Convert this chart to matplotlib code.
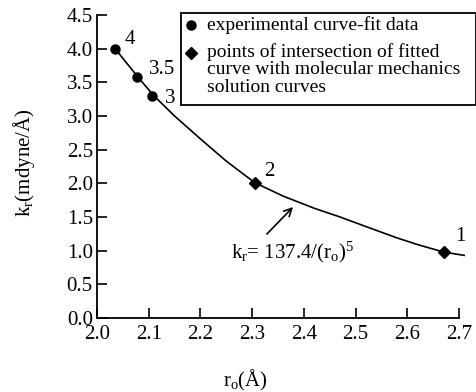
import matplotlib
matplotlib.use("Agg")
import matplotlib.pyplot as plt
from matplotlib.patches import Rectangle
from matplotlib.lines import Line2D

plt.rcParams['font.family'] = ['Liberation Serif', 'DejaVu Serif']
plt.rcParams['mathtext.fontset'] = 'custom'
plt.rcParams['mathtext.rm'] = 'Liberation Serif'
plt.rcParams['mathtext.it'] = 'Liberation Serif:italic'

# Data
exp_r = [2.035, 2.078, 2.107]
exp_k = [4.00, 3.58, 3.30]
exp_labels = ["4", "3.5", "3"]

int_r = [2.305, 2.671]
int_k = [2.01, 0.98]
int_labels = ["2", "1"]

fit_r = [2.035, 2.08, 2.11, 2.15, 2.20, 2.25, 2.305, 2.36, 2.42, 2.47, 2.53, 2.58, 2.62, 2.67, 2.71]
fit_k = [4.00, 3.57, 3.30, 3.00, 2.66, 2.33, 2.01, 1.81, 1.63, 1.50, 1.33, 1.19, 1.09, 0.98, 0.93]

x_ticks = [2.0, 2.1, 2.2, 2.3, 2.4, 2.5, 2.6, 2.7]
y_ticks = [0.0, 0.5, 1.0, 1.5, 2.0, 2.5, 3.0, 3.5, 4.0, 4.5]

legend_lines = ["experimental curve-fit data",
                "points of intersection of fitted",
                "curve with molecular mechanics",
                "solution curves"]

FS = 15
LFS = 14

fig = plt.figure(figsize=(4.77, 3.92), dpi=100)
ax = fig.add_axes([97/477, 1-318/392, (459-97)/477, (318-15)/392])

ax.plot(fit_r, fit_k, color='black', lw=1.2, clip_on=False)
ax.plot(exp_r, exp_k, 'o', color='black', ms=6.5, clip_on=False)
ax.plot(int_r, int_k, 'D', color='black', ms=6, clip_on=False)

offsets_exp = [(7, 3), (8, 2), (9, -5)]
for r, k, lab, off in zip(exp_r, exp_k, exp_labels, offsets_exp):
    ax.annotate(lab, (r, k), xytext=off, textcoords='offset points', fontsize=FS)
offsets_int = [(7, 5), (8, 8)]
for r, k, lab, off in zip(int_r, int_k, int_labels, offsets_int):
    ax.annotate(lab, (r, k), xytext=off, textcoords='offset points', fontsize=FS)

ax.annotate('', xy=(295/477, 1-205/392), xycoords='figure fraction',
            xytext=(265/477, 1-236/392), textcoords='figure fraction',
            arrowprops=dict(arrowstyle='->', color='black', lw=1.2, mutation_scale=14))
fig.text(231/477, 1-252/392, r'k$_\mathrm{r}$= 137.4/(r$_\mathrm{o}$)$^\mathrm{5}$',
         fontsize=FS, va='center', ha='left')

ax.set_xlim(2.0, 2.7)
ax.set_ylim(0.0, 4.5)
ax.set_xticks(x_ticks)
ax.set_yticks(y_ticks)
ax.set_xticklabels([f"{v:.1f}" for v in x_ticks])
ax.set_yticklabels([f"{v:.1f}" for v in y_ticks])
ax.tick_params(direction='in', length=7, width=1.2, labelsize=FS)
ax.tick_params(axis='x', pad=5)
ax.tick_params(axis='y', pad=3)
for s in ['top', 'right']:
    ax.spines[s].set_visible(False)
for s in ['left', 'bottom']:
    ax.spines[s].set_linewidth(1.3)

fig.text(245/477, 1-380/392, r'r$_\mathrm{o}$(Å)', fontsize=FS, ha='center', va='center')
fig.text(24/477, 1-163/392, r'k$_\mathrm{r}$(mdyne/Å)', fontsize=FS, ha='center', va='center', rotation=90)

# Legend box
fig.patches.append(Rectangle((181/477, 1-105/392), (476-181)/477, (105-13)/392,
                             transform=fig.transFigure, fill=False, lw=1.3, ec='black'))
fig.lines.append(Line2D([191/477], [1-25/392], transform=fig.transFigure, marker='o',
                        color='black', ms=6.5, ls=''))
fig.lines.append(Line2D([191/477], [1-53/392], transform=fig.transFigure, marker='D',
                        color='black', ms=6, ls=''))
for txt, yc in zip(legend_lines, [25, 52, 69.5, 87]):
    fig.text(207/477, 1-yc/392, txt, fontsize=LFS, va='center')

fig.savefig('out.png', dpi=100)
